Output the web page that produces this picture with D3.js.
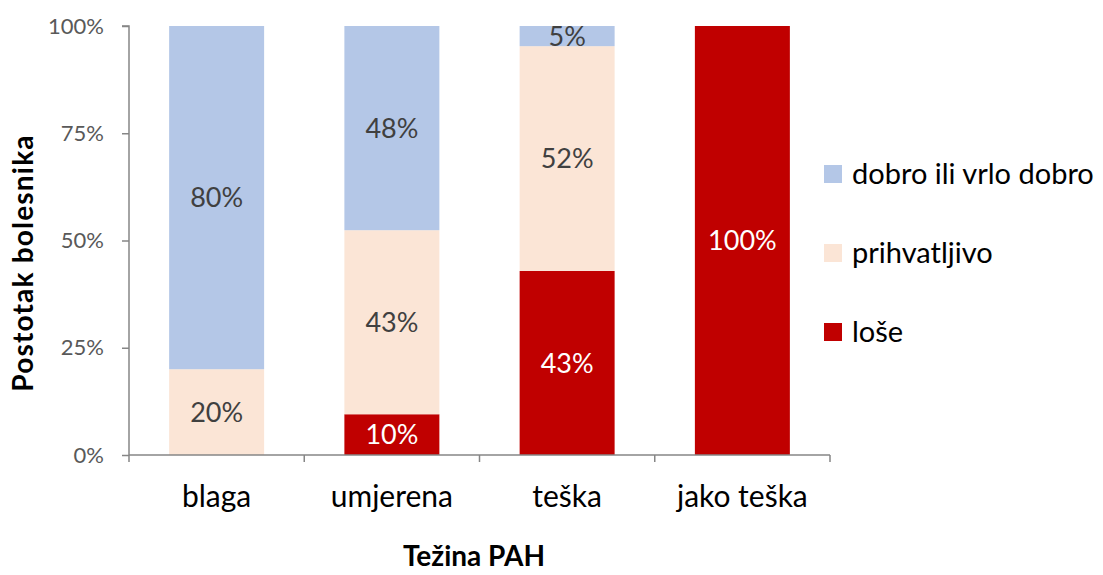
<!DOCTYPE html>
<html>
<head>
    <meta charset="UTF-8" />
    <script src="https://d3js.org/d3.v7.min.js"></script>
    <style>
        body { margin: 0; background: #fff; }
        text { font-family: Lato, "Open Sans", sans-serif; }
    </style>
</head>
<body>
    <script>
        // categories and series (percent of patients)
        let categories = ["blaga", "umjerena", "teška", "jako teška"];
        let lose = [0, 9.5, 42.9, 100];
        let prihvatljivo = [20, 42.9, 52.4, 0];
        let dobro = [80, 47.6, 4.7, 0];
        let seriesNames = ["loše", "prihvatljivo", "dobro ili vrlo dobro"];
        let yTicks = [0, 25, 50, 75, 100];

        let colors = ["#C00000", "#FBE5D6", "#B4C7E7"];
        let labelColors = ["#ffffff", "#404040", "#404040"];

        let width = 1103;
        let height = 575;
        let margin = { top: 26, right: 273, bottom: 120, left: 129 };

        let data = categories.map(function (c, i) {
            return { cat: c, s0: lose[i], s1: prihvatljivo[i], s2: dobro[i] };
        });
        let keys = ["s0", "s1", "s2"];
        let stacked = d3.stack().keys(keys)(data);

        let svg = d3.select("body")
            .append("svg")
            .attr("width", width)
            .attr("height", height);

        let x0 = margin.left;
        let x1 = width - margin.right;

        let x = d3.scaleBand()
            .domain(categories)
            .range([x0, x1])
            .paddingInner(0.458)
            .paddingOuter(0.229);

        let y = d3.scaleLinear()
            .domain([0, 100])
            .range([height - margin.bottom, margin.top]);

        // bars
        let groups = svg.selectAll(".series")
            .data(stacked)
            .join("g")
            .attr("class", "series")
            .attr("fill", function (d, i) { return colors[i]; });

        groups.selectAll("rect")
            .data(function (d) { return d; })
            .join("rect")
            .attr("x", function (d) { return x(d.data.cat); })
            .attr("width", x.bandwidth())
            .attr("y", function (d) { return y(d[1]); })
            .attr("height", function (d) { return y(d[0]) - y(d[1]); });

        // data labels
        stacked.forEach(function (s, i) {
            svg.append("g").selectAll("text")
                .data(s.filter(function (d) { return d[1] - d[0] > 0; }))
                .join("text")
                .attr("x", function (d) { return x(d.data.cat) + x.bandwidth() / 2; })
                .attr("y", function (d) { return (y(d[0]) + y(d[1])) / 2; })
                .attr("dy", "0.36em")
                .attr("text-anchor", "middle")
                .attr("font-size", 27)
                .attr("fill", labelColors[i])
                .text(function (d) { return Math.round(d[1] - d[0]) + "%"; });
        });

        // y axis
        let yAxis = svg.append("g")
            .attr("transform", `translate(${margin.left},0)`)
            .call(d3.axisLeft(y).tickValues(yTicks).tickSize(7).tickPadding(18)
                .tickFormat(function (d) { return d + "%"; }));
        yAxis.selectAll("line, path").attr("stroke", "#868686").attr("stroke-width", 1.5);
        yAxis.select(".domain").attr("d", `M-7,${y(100)}H0V${y(0)}`);
        yAxis.selectAll("text").attr("font-size", 22).attr("fill", "#595959")
            .style("font-family", "Lato, sans-serif");

        // x axis with tick marks between categories
        let xAxisG = svg.append("g")
            .attr("transform", `translate(0,${y(0)})`);
        let bounds = d3.range(categories.length + 1).map(function (i) {
            return x0 + i * x.step();
        });
        xAxisG.append("line")
            .attr("x1", x0).attr("x2", x1)
            .attr("stroke", "#868686").attr("stroke-width", 1.5);
        xAxisG.selectAll(".tk")
            .data(bounds)
            .join("line")
            .attr("class", "tk")
            .attr("x1", function (d) { return d; })
            .attr("x2", function (d) { return d; })
            .attr("y1", 0).attr("y2", 7)
            .attr("stroke", "#868686").attr("stroke-width", 1.5);
        xAxisG.selectAll(".cat")
            .data(categories)
            .join("text")
            .attr("class", "cat")
            .attr("x", function (d) { return x(d) + x.bandwidth() / 2; })
            .attr("y", 52)
            .attr("text-anchor", "middle")
            .attr("font-size", 30)
            .attr("fill", "#000")
            .text(function (d) { return d; });

        // axis titles
        svg.append("text")
            .attr("x", 474)
            .attr("y", 566)
            .attr("text-anchor", "middle")
            .attr("font-size", 28)
            .attr("font-weight", "bold")
            .text("Težina PAH");

        svg.append("text")
            .attr("transform", `translate(33,263) rotate(-90)`)
            .attr("text-anchor", "middle")
            .attr("font-size", 28)
            .attr("font-weight", "bold")
            .attr("letter-spacing", 1.2)
            .text("Postotak bolesnika");

        // legend (top to bottom: dobro, prihvatljivo, loše)
        let legendOrder = [2, 1, 0];
        let legend = svg.append("g").selectAll("g")
            .data(legendOrder)
            .join("g")
            .attr("transform", function (d, i) { return `translate(824,${174 + i * 79})`; });
        legend.append("rect")
            .attr("x", 0).attr("y", -9)
            .attr("width", 18).attr("height", 18)
            .attr("fill", function (d) { return colors[d]; });
        legend.append("text")
            .attr("x", 28)
            .attr("dy", "0.36em")
            .attr("font-size", 29)
            .attr("fill", "#000")
            .text(function (d) { return seriesNames[d]; });
    </script>
</body>
</html>
